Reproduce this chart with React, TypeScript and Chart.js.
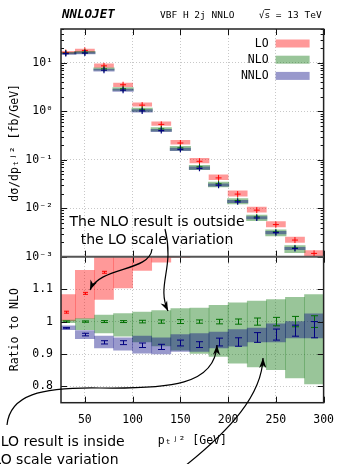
import React, { useEffect, useRef } from "react";
import { Chart, registerables } from "chart.js";
Chart.register(...registerables);

// ---------------- data ----------------
const binCenters = [30, 50, 70, 90, 110, 130, 150, 170, 190, 210, 230, 250, 270, 290];
const binEdges = [20, 40, 60, 80, 100, 120, 140, 160, 180, 200, 220, 240, 260, 280, 300];
// NLO central cross section [fb/GeV]
const nloXsec = [15.9, 16.6, 7.53, 2.92, 1.10, 0.434, 0.176, 0.0716, 0.032, 0.0145, 0.00662, 0.00326, 0.00152, 0.00078];
// ratios to NLO
const loRatio = [1.029, 1.087, 1.152, 1.21, 1.22, 1.24, 1.26, 1.30, 1.32, 1.35, 1.38, 1.41, 1.45, 1.5];
const loRatioLow = [1.003, 1.01, 1.068, 1.104, 1.158, 1.183, 1.198, 1.2, 1.21, 1.23, 1.25, 1.27, 1.29, 1.32];
const loRatioHigh = [1.083, 1.158, 1.27, 1.31, 1.36, 1.40, 1.44, 1.5, 1.53, 1.57, 1.6, 1.63, 1.67, 1.72];
const nloRatioLow = [0.997, 0.975, 0.965, 0.955, 0.937, 0.925, 0.912, 0.902, 0.893, 0.872, 0.86, 0.852, 0.826, 0.808];
const nloRatioHigh = [1.005, 1.009, 1.02, 1.025, 1.029, 1.034, 1.04, 1.042, 1.05, 1.058, 1.063, 1.068, 1.075, 1.083];
const nnloRatio = [0.98, 0.96, 0.936, 0.935, 0.927, 0.922, 0.934, 0.929, 0.937, 0.937, 0.951, 0.96, 0.972, 0.975];
const nnloRatioLow = [0.975, 0.947, 0.919, 0.912, 0.903, 0.9, 0.908, 0.908, 0.919, 0.924, 0.937, 0.937, 0.95, 0.95];
const nnloRatioHigh = [0.987, 0.972, 0.955, 0.95, 0.955, 0.95, 0.96, 0.963, 0.968, 0.975, 0.98, 0.993, 1.0, 1.024];
// statistical errors on the ratios
const loErr = [0.003, 0.003, 0.003, 0.004, 0.004, 0.005, 0.005, 0.006, 0.006, 0.007, 0.008, 0.009, 0.01, 0.012];
const nloErr = [0.002, 0.002, 0.003, 0.003, 0.004, 0.005, 0.006, 0.005, 0.007, 0.008, 0.011, 0.013, 0.016, 0.018];
const nnloErr = [0.002, 0.004, 0.005, 0.006, 0.007, 0.008, 0.009, 0.009, 0.012, 0.013, 0.015, 0.017, 0.017, 0.025];

const xTicks = [50, 100, 150, 200, 250, 300];
const logTicks = [1e-3, 1e-2, 1e-1, 1, 10];
const ratioTicks = [0.8, 0.9, 1, 1.1];

const legendLabels = ["LO", "NLO", "NNLO"];
const headerLeft = "NNLOJET";
const headerMid = "VBF H 2j NNLO";
const headerRight = "√s = 13 TeV";
const noteTop = ["The NLO result is outside", "the LO scale variation"];
const noteBottom = ["The NNLO result is inside", "the NLO scale variation"];

// ---------------- styles ----------------
const MONO = '"DejaVu Sans Mono", monospace';
const RED_BAND = "rgba(255,0,0,0.4)";
const GREEN_BAND = "rgba(0,110,0,0.4)";
const BLUE_BAND = "rgba(0,0,128,0.4)";
const RED = "#ff0000";
const GREEN = "#007000";
const NAVY = "#000080";
const legendColors = [RED_BAND, GREEN_BAND, BLUE_BAND];

const SUP: Record<string, string> = { "-": "⁻", "0": "⁰", "1": "¹", "2": "²", "3": "³", "4": "⁴" };
const sup = (s: string) => s.split("").map((c) => SUP[c] || c).join("");

const clipPlugin = {
  id: "panelClip",
  beforeDatasetDraw(chart: any, args: any) {
    const ys = chart.scales[args.meta.yAxisID];
    const ca = chart.chartArea;
    const ctx = chart.ctx;
    ctx.save();
    ctx.beginPath();
    ctx.rect(ca.left, ys.top, ca.right - ca.left, ys.bottom - ys.top);
    ctx.clip();
  },
  afterDatasetDraw(chart: any, args: any) {
    const ctx = chart.ctx;
    const ds = chart.data.datasets[args.index];
    if (ds.errors) {
      const ys = chart.scales[args.meta.yAxisID];
      ctx.strokeStyle = ds.errorColor;
      ctx.lineWidth = 1;
      const cap = ds.capHalf || 3;
      args.meta.data.forEach((pt: any, i: number) => {
        const v = ds.data[i].y;
        const e = ds.errors[i];
        const y1 = ys.getPixelForValue(v - e);
        const y2 = ys.getPixelForValue(v + e);
        const x = Math.round(pt.x) + 0.5;
        ctx.beginPath();
        ctx.moveTo(x, y1);
        ctx.lineTo(x, y2);
        ctx.moveTo(x - cap, y1);
        ctx.lineTo(x + cap, y1);
        ctx.moveTo(x - cap, y2);
        ctx.lineTo(x + cap, y2);
        ctx.stroke();
      });
    }
    ctx.restore();
  },
};

function drawArrow(ctx: CanvasRenderingContext2D, pts: number[][]) {
  ctx.beginPath();
  ctx.moveTo(pts[0][0], pts[0][1]);
  for (let i = 1; i + 2 < pts.length; i += 3) {
    ctx.bezierCurveTo(pts[i][0], pts[i][1], pts[i + 1][0], pts[i + 1][1], pts[i + 2][0], pts[i + 2][1]);
  }
  ctx.stroke();
  const e = pts[pts.length - 1];
  const c = pts[pts.length - 2];
  let dx = e[0] - c[0];
  let dy = e[1] - c[1];
  const l = Math.hypot(dx, dy) || 1;
  dx /= l;
  dy /= l;
  const len = 10;
  const hw = 3.6;
  const bx = e[0] - dx * len;
  const by = e[1] - dy * len;
  ctx.beginPath();
  ctx.moveTo(e[0], e[1]);
  ctx.lineTo(bx - dy * hw, by + dx * hw);
  ctx.lineTo(e[0] - dx * len * 0.7, e[1] - dy * len * 0.7);
  ctx.lineTo(bx + dy * hw, by - dx * hw);
  ctx.closePath();
  ctx.fill();
}

const decorPlugin = {
  id: "decor",
  afterDraw(chart: any) {
    const { ctx, chartArea: ca, scales } = chart;
    const xs = scales.x;
    const ly = scales.y;
    const ry = scales.r;
    const divY = ly.bottom;
    ctx.save();
    const line = (x1: number, y1: number, x2: number, y2: number) => {
      ctx.beginPath();
      ctx.moveTo(x1, y1);
      ctx.lineTo(x2, y2);
      ctx.stroke();
    };
    ctx.strokeStyle = "#111";
    ctx.lineWidth = 1;
    xTicks.forEach((v) => {
      const x = Math.round(xs.getPixelForValue(v)) + 0.5;
      line(x, ca.top, x, ca.top + 6);
      line(x, divY - 6, x, divY + 6);
      line(x, ca.bottom, x, ca.bottom - 6);
    });
    for (let e = -3; e <= 1; e++) {
      for (let m = 1; m <= 9; m++) {
        const v = m * Math.pow(10, e);
        if (v > ly.max || v < ly.min) continue;
        const y = Math.round(ly.getPixelForValue(v)) + 0.5;
        const len = m === 1 ? 6 : 3;
        line(ca.left, y, ca.left + len, y);
        line(ca.right, y, ca.right - len, y);
      }
    }
    ratioTicks.forEach((v) => {
      const y = Math.round(ry.getPixelForValue(v)) + 0.5;
      line(ca.left, y, ca.left + 6, y);
      line(ca.right, y, ca.right - 6, y);
    });
    // frame
    ctx.strokeStyle = "#222";
    ctx.lineWidth = 1.5;
    ctx.strokeRect(ca.left, ca.top, ca.right - ca.left, ca.bottom - ca.top);
    ctx.strokeStyle = "#555";
    ctx.lineWidth = 2;
    line(ca.left, divY, ca.right, divY);

    // header
    ctx.fillStyle = "#000";
    ctx.textBaseline = "alphabetic";
    ctx.textAlign = "left";
    ctx.font = `italic bold 12.5px ${MONO}`;
    ctx.fillText(headerLeft, ca.left + 1, 18);
    ctx.font = `9.5px ${MONO}`;
    ctx.fillText(headerMid, 160, 18);
    ctx.textAlign = "right";
    ctx.fillText(headerRight, ca.right - 2, 18);
    // overline over s
    const wAfter = ctx.measureText(headerRight.slice(2)).width;
    const wS = ctx.measureText("s").width;
    ctx.lineWidth = 0.8;
    ctx.strokeStyle = "#000";
    line(ca.right - 2 - wAfter - wS, 9.5, ca.right - 2 - wAfter, 9.5);

    // legend
    ctx.font = `11.5px ${MONO}`;
    ctx.textAlign = "right";
    ctx.textBaseline = "middle";
    legendLabels.forEach((lab, i) => {
      const y = ca.top + 14.5 + i * 16.2;
      ctx.fillStyle = "#000";
      ctx.fillText(lab, ca.right - 55, y + 0.5);
      ctx.fillStyle = legendColors[i];
      ctx.fillRect(ca.right - 48, y - 4, 34, 8);
    });

    // annotations
    ctx.fillStyle = "#000";
    ctx.font = '14px "DejaVu Sans", sans-serif';
    ctx.textAlign = "center";
    ctx.textBaseline = "alphabetic";
    ctx.fillText(noteTop[0], 157, 226);
    ctx.fillText(noteTop[1], 157, 244);
    ctx.fillText(noteBottom[0], 37, 446);
    ctx.fillText(noteBottom[1], 37, 463.5);

    ctx.strokeStyle = "#000";
    ctx.lineWidth = 1.2;
    drawArrow(ctx, [[152, 249], [150, 272], [100, 266], [90, 290]]);
    drawArrow(ctx, [[165, 229], [175, 268], [156, 285], [168, 311]]);
    drawArrow(ctx, [[7, 425], [10, 395], [40, 387], [100, 388], [170, 389], [215, 385], [217, 345]]);
    drawArrow(ctx, [[185, 466], [230, 430], [262, 395], [263, 358]]);
    ctx.restore();
  },
};

export default function App() {
  const ref = useRef<HTMLCanvasElement>(null);
  useEffect(() => {
    const canvas = ref.current;
    if (!canvas) return;
    const band = (lo: number[], hi: number[], base: number[] | null) =>
      binCenters.map((x, i) => ({ x, y: [lo[i] * (base ? base[i] : 1), hi[i] * (base ? base[i] : 1)] }));
    const pts = (r: number[], base: number[] | null) =>
      binCenters.map((x, i) => ({ x, y: r[i] * (base ? base[i] : 1) }));
    const ones = nloXsec.map((v) => v / v);
    const unitLine = binEdges.map((x, i) => ({ x, y: ones[Math.min(i, ones.length - 1)] }));

    const barCommon = { type: "bar", grouped: false, barPercentage: 1, categoryPercentage: 1, borderWidth: 0 };
    const datasets: any[] = [
      { ...barCommon, label: "LO", data: band(loRatioLow, loRatioHigh, nloXsec), backgroundColor: RED_BAND, yAxisID: "y", order: 30 },
      { ...barCommon, label: "NLO", data: band(nloRatioLow, nloRatioHigh, nloXsec), backgroundColor: GREEN_BAND, yAxisID: "y", order: 20, inflateAmount: 1 },
      { ...barCommon, label: "NNLO", data: band(nnloRatioLow, nnloRatioHigh, nloXsec), backgroundColor: BLUE_BAND, yAxisID: "y", order: 10, inflateAmount: 1 },
      { type: "scatter", data: pts(loRatio, nloXsec), yAxisID: "y", pointStyle: "cross", pointRadius: 3, borderColor: RED, borderWidth: 1, order: 3 },
      { type: "scatter", data: pts(ones, nloXsec), yAxisID: "y", pointStyle: "cross", pointRadius: 3, borderColor: GREEN, borderWidth: 1, order: 2 },
      { type: "scatter", data: pts(nnloRatio, nloXsec), yAxisID: "y", pointStyle: "cross", pointRadius: 3, borderColor: NAVY, borderWidth: 1.2, order: 1 },

      { ...barCommon, data: band(loRatioLow, loRatioHigh, null), backgroundColor: RED_BAND, yAxisID: "r", order: 30 },
      { ...barCommon, data: band(nloRatioLow, nloRatioHigh, null), backgroundColor: GREEN_BAND, yAxisID: "r", order: 20 },
      { ...barCommon, data: band(nnloRatioLow, nnloRatioHigh, null), backgroundColor: BLUE_BAND, yAxisID: "r", order: 10 },
      { type: "line", data: unitLine, yAxisID: "r", borderColor: "rgba(90,100,90,0.85)", borderWidth: 1.5, pointRadius: 0, order: 5 },
      { type: "scatter", data: pts(loRatio, null), yAxisID: "r", pointStyle: "rect", pointRadius: 1.5, backgroundColor: RED, borderColor: RED, borderWidth: 0, order: 3, errors: loErr, errorColor: RED, capHalf: 2.5 },
      { type: "scatter", data: pts(ones, null), yAxisID: "r", pointStyle: "rect", pointRadius: 1.8, backgroundColor: GREEN, borderColor: GREEN, borderWidth: 0, order: 2, errors: nloErr, errorColor: GREEN, capHalf: 3.5 },
      { type: "scatter", data: pts(nnloRatio, null), yAxisID: "r", pointStyle: "rect", pointRadius: 1.8, backgroundColor: NAVY, borderColor: NAVY, borderWidth: 0, order: 1, errors: nnloErr, errorColor: NAVY, capHalf: 3.5 },
    ];

    const gridCommon = { color: "#c8c8c8", drawTicks: false, lineWidth: 1 };
    const borderCommon = { display: false, dash: [1, 2] };
    const tickFont = { family: MONO, size: 11.5 };

    const chart = new Chart(canvas, {
      type: "bar",
      data: { datasets },
      plugins: [clipPlugin, decorPlugin],
      options: {
        animation: false,
        responsive: false,
        maintainAspectRatio: false,
        layout: { padding: { top: 29, right: 11, left: 0, bottom: 0 } },
        plugins: { legend: { display: false }, tooltip: { enabled: false } },
        scales: {
          x: {
            type: "linear",
            min: 25,
            max: 300,
            offset: false,
            grid: { ...gridCommon, offset: false, color: (c: any) => (c.tick && c.tick.value === 300 ? "rgba(0,0,0,0)" : "#c8c8c8") },
            border: borderCommon,
            afterBuildTicks: (s: any) => { s.ticks = xTicks.map((value) => ({ value })); },
            afterFit: (s: any) => { s.height = 61.3; },
            ticks: { font: tickFont, color: "#000", padding: 10, maxRotation: 0, autoSkip: false, callback: (v: any) => String(v) },
            title: { display: true, text: "pₜʲ² [GeV]", font: { family: MONO, size: 11.5 }, color: "#000", padding: { top: 0, bottom: 16 } },
          },
          r: {
            type: "linear",
            position: "left",
            stack: "panels",
            stackWeight: 146,
            min: 0.75,
            max: 1.2,
            grid: { ...gridCommon },
            border: borderCommon,
            afterBuildTicks: (s: any) => { s.ticks = ratioTicks.map((value) => ({ value })); },
            afterFit: (s: any) => { s.width = 61; },
            ticks: { font: tickFont, color: "#000", padding: 8, callback: (v: any) => String(Math.round(v * 10) / 10) },
            title: { display: true, text: "Ratio to NLO", font: { family: MONO, size: 11.5 }, color: "#000", padding: { top: 8, bottom: 0 } },
          },
          y: {
            type: "logarithmic",
            position: "left",
            stack: "panels",
            stackWeight: 227.7,
            min: 1e-3,
            max: 50,
            grid: { ...gridCommon },
            border: borderCommon,
            afterBuildTicks: (s: any) => { s.ticks = logTicks.map((value) => ({ value })); },
            afterFit: (s: any) => { s.width = 61; },
            ticks: { font: tickFont, color: "#000", padding: 8, autoSkip: false, callback: (v: any) => "10" + sup(String(Math.round(Math.log10(v)))) },
            title: { display: true, text: "dσ/dpₜʲ² [fb/GeV]", font: { family: MONO, size: 11.5 }, color: "#000", padding: { top: 8, bottom: 0 } },
          },
        },
      } as any,
    } as any);
    return () => chart.destroy();
  }, []);

  return (
    <div style={{ position: "fixed", left: 0, top: 0, width: 344, height: 464, background: "#fff" }}>
      <canvas ref={ref} width={344} height={464} style={{ display: "block", width: 344, height: 464 }} />
    </div>
  );
}
